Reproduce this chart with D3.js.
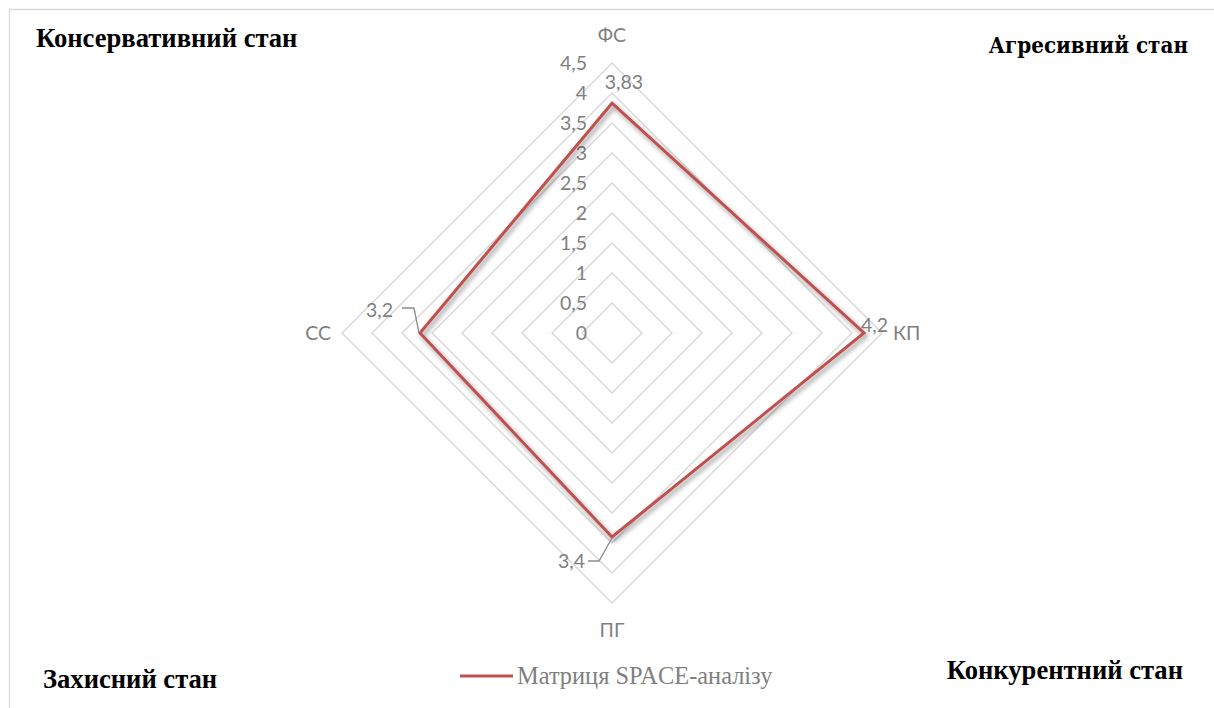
<!DOCTYPE html>
<html><head><meta charset="utf-8">
<script src="https://cdn.jsdelivr.net/npm/d3@7"></script>
<style>html,body{margin:0;padding:0;background:#fff;}svg{display:block;}</style>
</head><body>
<svg id="c" width="1214" height="708"></svg>
<script>
const axes = ["ФС", "КП", "ПГ", "СС"];
const values = [3.83, 4.2, 3.4, 3.2];
const valueLabels = ["3,83", "4,2", "3,4", "3,2"];
const ticks = [0, 0.5, 1, 1.5, 2, 2.5, 3, 3.5, 4, 4.5];
const tickLabels = ["0", "0,5", "1", "1,5", "2", "2,5", "3", "3,5", "4", "4,5"];
const seriesName = "Матриця SPACE-аналізу";
const corners = ["Консервативний стан", "Агресивний стан", "Захисний стан", "Конкурентний стан"];

const svg = d3.select("#c");
const cx = 612, cy = 333;
const r = d3.scaleLinear().domain([0, 4.5]).range([0, 270]);
const ang = d3.scalePoint().domain(axes).range([0, 270]); // degrees from top, clockwise
const pt = (a, v) => {
  const t = (ang(a)) * Math.PI / 180;
  return [cx + r(v) * Math.sin(t), cy - r(v) * Math.cos(t)];
};

// frame
svg.append("path").attr("d", "M9.5,708 L9.5,9.5 L1214,9.5")
  .attr("fill", "none").attr("stroke", "#d9d9d9").attr("stroke-width", 1.3);

const g = svg.append("g");
// rings
ticks.slice(1).forEach(t => {
  g.append("path")
    .attr("d", d3.line()(axes.map(a => pt(a, t))) + "Z")
    .attr("fill", "none").attr("stroke", "#d9d9d9").attr("stroke-width", 1.5);
});

const catFont = "Lato, 'Open Sans', sans-serif";
const fs = 19.5;
// tick labels
g.selectAll("text.tick").data(ticks).enter().append("text")
  .attr("class", "tick")
  .attr("x", 587).attr("y", d => cy - r(d))
  .attr("dy", "0.35em").attr("text-anchor", "end")
  .attr("font-family", catFont).attr("font-size", fs)
  .attr("fill", "#7f7f7f")
  .text((d, i) => tickLabels[i]);

// shadow filter
const defs = svg.append("defs");
const f = defs.append("filter").attr("id", "sh").attr("x", "-20%").attr("y", "-20%").attr("width", "140%").attr("height", "140%");
f.append("feGaussianBlur").attr("in", "SourceAlpha").attr("stdDeviation", 2.5).attr("result", "b");
f.append("feOffset").attr("in", "b").attr("dx", 2).attr("dy", 3).attr("result", "o");
f.append("feComponentTransfer").attr("in", "o").attr("result", "o2")
  .append("feFuncA").attr("type", "linear").attr("slope", 0.45);
const m = f.append("feMerge");
m.append("feMergeNode").attr("in", "o2");
m.append("feMergeNode").attr("in", "SourceGraphic");

// data line
const dataPts = axes.map((a, i) => pt(a, values[i]));
g.append("path")
  .attr("d", d3.line()(dataPts) + "Z")
  .attr("fill", "none").attr("stroke", "#c0504d").attr("stroke-width", 3)
  .attr("stroke-linejoin", "miter")
  .attr("filter", "url(#sh)");

// axis category labels
const catPos = [
  {x: cx, y: 35, anchor: "middle"},
  {x: 893, y: 333, anchor: "start"},
  {x: cx, y: 630, anchor: "middle"},
  {x: 331, y: 333, anchor: "end"}
];
axes.forEach((a, i) => {
  g.append("text").attr("x", catPos[i].x).attr("y", catPos[i].y)
    .attr("dy", "0.35em").attr("text-anchor", catPos[i].anchor)
    .attr("font-family", catFont).attr("font-size", fs).attr("fill", "#7f7f7f")
    .text(a);
});

// data labels
const lblPos = [
  {x: 624, y: 82, anchor: "middle"},
  {x: 861, y: 325, anchor: "start"},
  {x: 585, y: 561, anchor: "end"},
  {x: 393, y: 310, anchor: "end"}
];
valueLabels.forEach((t, i) => {
  g.append("text").attr("x", lblPos[i].x).attr("y", lblPos[i].y)
    .attr("dy", "0.35em").attr("text-anchor", lblPos[i].anchor)
    .attr("font-family", catFont).attr("font-size", fs).attr("fill", "#7f7f7f")
    .text(t);
});
// leader lines
const p2 = dataPts[2], p3 = dataPts[3];
g.append("path").attr("d", `M${p2[0]},${p2[1]+1} L599,561 L588,561`)
  .attr("fill", "none").attr("stroke", "#8c8c8c").attr("stroke-width", 1.3);
g.append("path").attr("d", `M${p3[0]-1},${p3[1]} L414,308 L402,308`)
  .attr("fill", "none").attr("stroke", "#8c8c8c").attr("stroke-width", 1.3);

// legend
svg.append("line").attr("x1", 460).attr("x2", 513).attr("y1", 676).attr("y2", 676)
  .attr("stroke", "#c0504d").attr("stroke-width", 3);
svg.append("text").attr("x", 517).attr("y", 684)
  .attr("font-family", "'Liberation Serif', 'Times New Roman', serif").attr("font-size", 24.4)
  .attr("fill", "#7f7f7f").text(seriesName);

// corner labels
const cPos = [
  {x: 36, y: 47, anchor: "start", fam: "'Liberation Serif', serif", size: 26.6},
  {x: 1188, y: 53, anchor: "end", fam: "'DejaVu Serif Condensed', 'DejaVu Serif', serif", size: 22.2},
  {x: 43, y: 688, anchor: "start", fam: "'Liberation Serif', serif", size: 26.6},
  {x: 1183, y: 679, anchor: "end", fam: "'Liberation Serif', serif", size: 26.6}
];
corners.forEach((t, i) => {
  svg.append("text").attr("x", cPos[i].x).attr("y", cPos[i].y)
    .attr("text-anchor", cPos[i].anchor)
    .attr("font-family", cPos[i].fam).attr("font-weight", "bold")
    .attr("font-size", cPos[i].size).attr("fill", "#000").text(t);
});
</script>
</body></html>
